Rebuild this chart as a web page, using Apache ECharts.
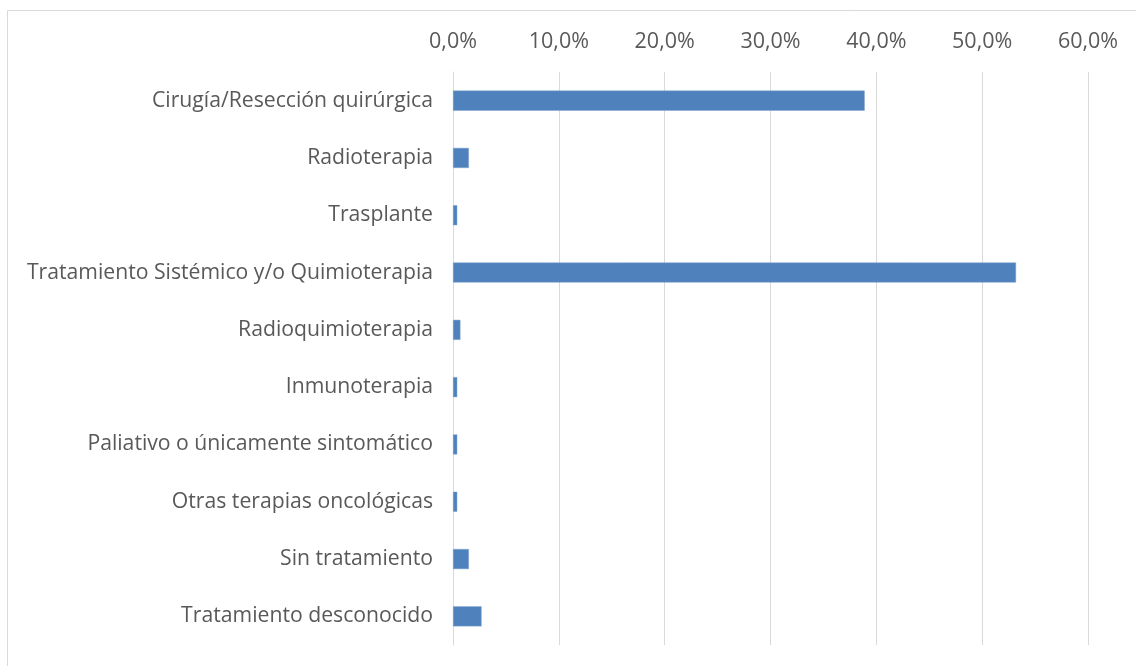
<!DOCTYPE html>
<html>
<head>
<meta charset="utf-8">
<script src="https://cdn.jsdelivr.net/npm/echarts@6/dist/echarts.min.js"></script>
<style>
  html, body { margin: 0; padding: 0; background: #fff; }
  #chart { width: 1136px; height: 666px; }
</style>
</head>
<body>
<div id="chart"></div>
<script>
// Treatment categories, top to bottom
var categories = [
  'Cirugía/Resección quirúrgica',
  'Radioterapia',
  'Trasplante',
  'Tratamiento Sistémico y/o Quimioterapia',
  'Radioquimioterapia',
  'Inmunoterapia',
  'Paliativo o únicamente sintomático',
  'Otras terapias oncológicas',
  'Sin tratamiento',
  'Tratamiento desconocido'
];
// Share of patients per treatment (%)
var shares = [38.9, 1.5, 0.4, 53.2, 0.7, 0.4, 0.4, 0.4, 1.5, 2.7];
// Value axis ticks (%)
var tickMin = 0, tickMax = 60, tickStep = 10;

var FONT = '"Open Sans"';
var chart = echarts.init(document.getElementById('chart'), null, { renderer: 'canvas' });
chart.setOption({
  backgroundColor: '#ffffff',
  animation: false,
  graphic: [{
    type: 'rect',
    shape: { x: 7.5, y: 10.5, width: 1200, height: 700 },
    style: { fill: 'none', stroke: '#d9d9d9', lineWidth: 1 },
    silent: true
  }],
  grid: { left: 453, right: 48, top: 72, bottom: 21, containLabel: false },
  xAxis: {
    type: 'value',
    position: 'top',
    min: tickMin, max: tickMax, interval: tickStep,
    axisLine: { show: false },
    axisTick: { show: false },
    splitLine: { show: true, lineStyle: { color: '#d9d9d9', width: 1 } },
    axisLabel: {
      margin: 19,
      color: '#595959',
      fontFamily: FONT,
      fontSize: 21.5,
      formatter: function (v) { return v.toFixed(1).replace('.', ',') + '%'; }
    }
  },
  yAxis: {
    type: 'category',
    inverse: true,
    data: categories,
    axisLine: { show: true, lineStyle: { color: '#d9d9d9', width: 1 } },
    axisTick: { show: false },
    axisLabel: {
      margin: 20,
      color: '#595959',
      fontFamily: FONT,
      fontSize: 21.2
    }
  },
  series: [{
    type: 'bar',
    data: shares,
    barCategoryGap: '65%',
    itemStyle: { color: '#4f81bd', borderColor: '#7fa3cf', borderWidth: 0.5 }
  }]
});
</script>
</body>
</html>
